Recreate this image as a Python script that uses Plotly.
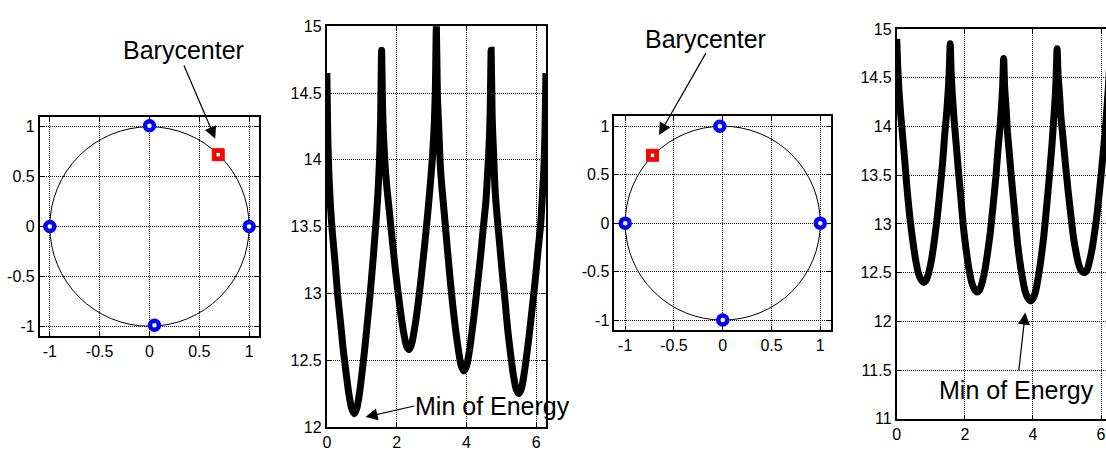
import plotly.graph_objects as go

# ---------------- data ----------------
# Panel 1: unit points and barycenter
pts1_x = [0.0, -1.0, 1.0, 0.05]
pts1_y = [1.01, 0.0, 0.0, -0.99]
bary1_x = [0.69]
bary1_y = [0.72]

# Panel 3
pts3_x = [-0.03, -1.0, 1.0, 0.0]
pts3_y = [1.0, 0.0, 0.0, -1.0]
bary3_x = [-0.72]
bary3_y = [0.70]

# Energy curves (angle vs energy)
theta = [0.00, 0.03, 0.06, 0.11, 0.16, 0.24, 0.31, 0.39, 0.47, 0.55, 0.63, 0.71,
         0.79, 0.86, 0.94, 1.02, 1.10, 1.18, 1.26, 1.34, 1.41, 1.46, 1.51, 1.54,
         1.57, 1.60, 1.63, 1.68, 1.73, 1.81, 1.89, 1.96, 2.04, 2.12, 2.20, 2.28,
         2.36, 2.43, 2.51, 2.59, 2.67, 2.75, 2.83, 2.91, 2.98, 3.03, 3.08, 3.11,
         3.14, 3.17, 3.21, 3.25, 3.30, 3.38, 3.46, 3.53, 3.61, 3.69, 3.77, 3.85,
         3.93, 4.01, 4.08, 4.16, 4.24, 4.32, 4.40, 4.48, 4.56, 4.60, 4.65, 4.68,
         4.71, 4.74, 4.78, 4.82, 4.87, 4.95, 5.03, 5.11, 5.18, 5.26, 5.34, 5.42,
         5.50, 5.58, 5.65, 5.73, 5.81, 5.89, 5.97, 6.05, 6.13, 6.17, 6.22, 6.25,
         6.28]

energy1 = [14.65, 14.14, 13.89, 13.63, 13.45, 13.22, 12.99, 12.79, 12.58, 12.41, 12.25, 12.14,
           12.10, 12.14, 12.26, 12.43, 12.62, 12.83, 13.05, 13.30, 13.54, 13.73, 14.00, 14.28,
           14.82, 14.37, 14.15, 13.92, 13.77, 13.57, 13.36, 13.19, 13.01, 12.85, 12.71, 12.61,
           12.58, 12.62, 12.73, 12.87, 13.04, 13.23, 13.43, 13.65, 13.86, 14.03, 14.27, 14.52,
           15.00, 14.48, 14.23, 13.97, 13.79, 13.56, 13.32, 13.12, 12.91, 12.73, 12.58, 12.46,
           12.42, 12.46, 12.56, 12.71, 12.88, 13.07, 13.26, 13.48, 13.69, 13.86, 14.10, 14.34,
           14.82, 14.31, 14.05, 13.79, 13.61, 13.38, 13.15, 12.94, 12.74, 12.56, 12.40, 12.29,
           12.25, 12.29, 12.39, 12.54, 12.71, 12.90, 13.09, 13.31, 13.52, 13.69, 13.93, 14.17,
           14.65]

energy2 = [14.90, 14.60, 14.40, 14.15, 13.95, 13.63, 13.33, 13.05, 12.83, 12.64, 12.50, 12.43,
           12.40, 12.42, 12.50, 12.63, 12.82, 13.04, 13.31, 13.60, 13.92, 14.12, 14.36, 14.56,
           14.85, 14.54, 14.34, 14.09, 13.88, 13.55, 13.24, 12.96, 12.73, 12.54, 12.40, 12.33,
           12.30, 12.32, 12.40, 12.53, 12.71, 12.92, 13.19, 13.48, 13.79, 13.98, 14.22, 14.41,
           14.70, 14.40, 14.20, 13.95, 13.75, 13.43, 13.13, 12.86, 12.63, 12.45, 12.31, 12.24,
           12.21, 12.24, 12.31, 12.46, 12.65, 12.88, 13.17, 13.48, 13.82, 14.02, 14.28, 14.49,
           14.80, 14.52, 14.34, 14.11, 13.93, 13.63, 13.35, 13.10, 12.89, 12.72, 12.59, 12.52,
           12.50, 12.52, 12.60, 12.73, 12.91, 13.12, 13.39, 13.68, 13.99, 14.18, 14.42, 14.61,
           14.90]

circ_ticks = [-1, -0.5, 0, 0.5, 1]
circ_ticktext = ["-1", "-0.5", "0", "0.5", "1"]
ang_ticks = [0, 2, 4, 6]
ang_ticktext = ["0", "2", "4", "6"]
e1_ticks = [12, 12.5, 13, 13.5, 14, 14.5, 15]
e1_ticktext = ["12", "12.5", "13", "13.5", "14", "14.5", "15"]
e2_ticks = [11, 11.5, 12, 12.5, 13, 13.5, 14, 14.5, 15]
e2_ticktext = ["11", "11.5", "12", "12.5", "13", "13.5", "14", "14.5", "15"]

# ---------------- figure ----------------
W, H = 1106, 454
FONT = "Liberation Sans, Arial, sans-serif"

fig = go.Figure()

def add_points(px, py, bx, by, xa, ya):
    fig.add_trace(go.Scatter(x=px, y=py, mode="markers", xaxis=xa, yaxis=ya,
                             marker=dict(symbol="circle", size=9, color="white",
                                         line=dict(color="#0000ff", width=4.5)),
                             showlegend=False, hoverinfo="skip"))
    fig.add_trace(go.Scatter(x=bx, y=by, mode="markers", xaxis=xa, yaxis=ya,
                             marker=dict(symbol="square", size=12, color="#ff0000",
                                         line=dict(color="#ff0000", width=1)),
                             showlegend=False, hoverinfo="skip"))
    fig.add_trace(go.Scatter(x=bx, y=by, mode="markers", xaxis=xa, yaxis=ya,
                             marker=dict(symbol="square", size=4, color="white",
                                         line=dict(color="#333", width=0.5)),
                             showlegend=False, hoverinfo="skip"))

ENERGY_LINE = dict(color="black", width=7, shape="spline", smoothing=0.6)

add_points(pts1_x, pts1_y, bary1_x, bary1_y, "x", "y")
fig.add_trace(go.Scatter(x=theta, y=energy1, mode="lines", xaxis="x2", yaxis="y2",
                         line=ENERGY_LINE, showlegend=False, hoverinfo="skip"))
add_points(pts3_x, pts3_y, bary3_x, bary3_y, "x3", "y3")
fig.add_trace(go.Scatter(x=theta, y=energy2, mode="lines", xaxis="x4", yaxis="y4",
                         line=ENERGY_LINE, showlegend=False, hoverinfo="skip"))

# unit circles
for xr, yr in [("x", "y"), ("x3", "y3")]:
    fig.add_shape(type="circle", xref=xr, yref=yr, x0=-1, y0=-1, x1=1, y1=1,
                  line=dict(color="black", width=1), layer="between")

def ax_style(domain, rng, tv, tt, anchor, mirror=True):
    return dict(domain=domain, range=rng, tickvals=tv, ticktext=tt, anchor=anchor,
                showgrid=True, gridcolor="#111", gridwidth=1, griddash="1px,1px",
                zeroline=False, showline=True, linecolor="black", linewidth=2,
                mirror="ticks" if mirror else False, ticks="inside", ticklen=4,
                tickcolor="black", tickwidth=1,
                tickfont=dict(family=FONT, size=16, color="black"), fixedrange=True)

layout = dict(
    width=W, height=H, autosize=False,
    margin=dict(l=0, r=0, t=0, b=0),
    paper_bgcolor="white", plot_bgcolor="white",
    xaxis=ax_style([36 / W, 256 / W], [-1.1, 1.1], circ_ticks, circ_ticktext, "y"),
    yaxis=ax_style([1 - 341 / H, 1 - 113 / H], [-1.1, 1.1], circ_ticks, circ_ticktext, "x"),
    xaxis2=ax_style([324 / W, 544 / W], [0, 6.2832], ang_ticks, ang_ticktext, "y2"),
    yaxis2=ax_style([1 - 435.3 / H, 1 - 19 / H], [12, 15], e1_ticks, e1_ticktext, "x2"),
    xaxis3=ax_style([612.7 / W, 830 / W], [-1.11, 1.11], circ_ticks, circ_ticktext, "y3"),
    yaxis3=ax_style([1 - 334.3 / H, 1 - 112.7 / H], [-1.1, 1.1], circ_ticks, circ_ticktext, "x3"),
    xaxis4=ax_style([896 / W, 1.0], [0, 6.146], ang_ticks, ang_ticktext, "y4"),
    yaxis4=ax_style([1 - 426.7 / H, 1 - 22 / H], [11, 15], e2_ticks, e2_ticktext, "x4", mirror=False),
)
fig.update_layout(**layout)

TF = dict(family=FONT, size=25, color="black")
AR = dict(text="", showarrow=True, arrowhead=2, arrowsize=2.0, arrowwidth=1.2, arrowcolor="black")
ann = [
    # panel 1
    dict(xref="paper", yref="paper", x=180 / W, y=1 - 44 / H, text="Barycenter",
         showarrow=False, font=TF, xanchor="center", yanchor="middle"),
    dict(xref="x", yref="y", axref="x", ayref="y", x=0.66, y=0.88, ax=0.34, ay=1.63, **AR),
    # panel 2
    dict(xref="x2", yref="y2", x=4.76, y=12.16, text="Min of Energy", showarrow=False, font=TF),
    dict(xref="x2", yref="y2", axref="x2", ayref="y2", x=1.11, y=12.074, ax=2.55, ay=12.16, **AR),
    # panel 3
    dict(xref="paper", yref="paper", x=704 / W, y=1 - 32 / H, text="Barycenter",
         showarrow=False, font=TF, xanchor="center", yanchor="middle"),
    dict(xref="x3", yref="y3", axref="x3", ayref="y3", x=-0.653, y=0.909, ax=-0.164, ay=1.769, **AR),
    # panel 4
    dict(xref="x4", yref="y4", x=3.51, y=11.295, text="Min of Energy", showarrow=False, font=TF),
    dict(xref="x4", yref="y4", axref="x4", ayref="y4", x=3.775, y=12.09, ax=3.58, ay=11.48, **AR),
]
fig.update_layout(annotations=ann)

fig.write_html("out.html", config=dict(displayModeBar=False))
